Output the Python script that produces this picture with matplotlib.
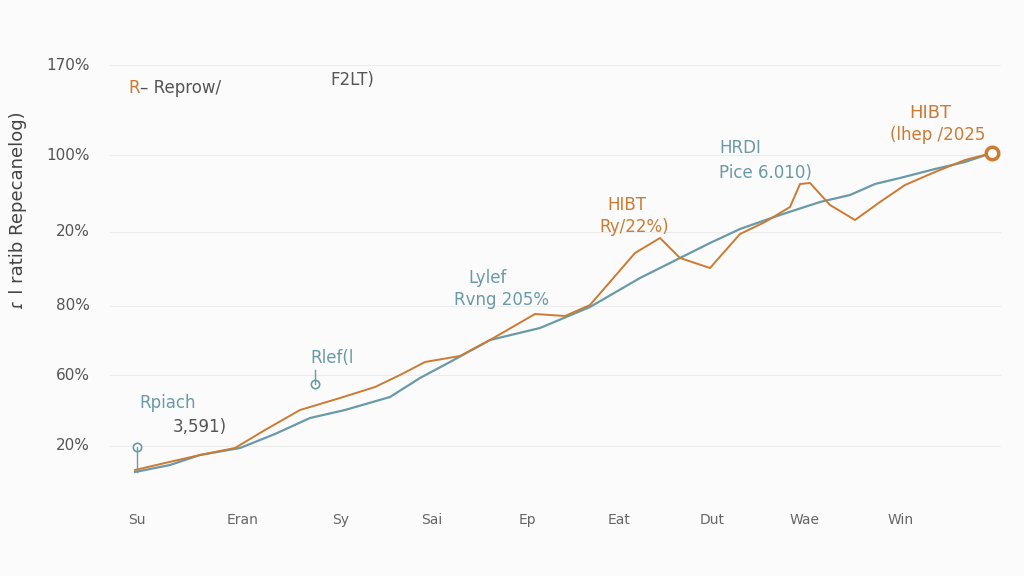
import matplotlib
matplotlib.use("Agg")
import matplotlib.pyplot as plt

# data (x in category-position units, y in relative performance units)
x_labels = ["Su", "Eran", "Sy", "Sai", "Ep", "Eat", "Dut", "Wae", "Win"]
x_label_pos = [137, 243, 341, 432, 527, 619, 712, 805, 901]
y_tick_labels = ["20%", "60%", "80%", "20%", "100%", "170%"]
y_tick_pos = [54, 125, 194, 268, 345, 435]

orange_x = [135,165,200,235,265,300,340,375,400,425,460,490,535,565,590,635,660,680,710,740,765,790,800,810,830,855,880,905,935,965,992]
orange_y = [30,37,45,52,70,90,102,113,125,138,144,160,186,184,195,247,262,242,232,266,278,293,316,317,295,280,298,315,328,340,347]
teal_x = [135,170,200,240,275,310,345,390,420,450,490,540,590,640,680,710,740,780,820,850,875,900,935,965,992]
teal_y = [28,35,45,52,66,82,90,103,122,138,160,172,193,222,242,257,271,285,298,305,316,322,331,338,347]

fig = plt.figure(figsize=(10.24, 5.76), dpi=100)
fig.patch.set_facecolor("#fbfbfb")
ax = fig.add_axes([0, 0, 1, 1])
ax.set_facecolor("#fbfbfb")
ax.set_xlim(0, 1024)
ax.set_ylim(-76, 500)
ax.axis("off")

for yp, lab in zip(y_tick_pos, y_tick_labels):
    ax.plot([110, 1000], [yp, yp], color="#ececec", lw=0.8, zorder=0)
    ax.text(90, yp, lab, ha="right", va="center", fontsize=11, color="#555555")
for xp, lab in zip(x_label_pos, x_labels):
    ax.text(xp, -20, lab, ha="center", va="center", fontsize=10, color="#666666")

teal = "#6a9aa8"
orange = "#cd7a32"
ax.plot(teal_x, teal_y, color=teal, lw=1.6)
ax.plot(orange_x, orange_y, color=orange, lw=1.4)
ax.plot([orange_x[-1]], [orange_y[-1]], "o", ms=9, mfc="white", mec=orange, mew=2.5)
ax.plot([137], [53], "o", ms=6, mfc="white", mec=teal, mew=1.2)
ax.plot([137, 137], [28, 53], color=teal, lw=1)
ax.plot([315], [116], "o", ms=6, mfc="white", mec=teal, mew=1.2)
ax.plot([315, 315], [116, 130], color=teal, lw=1)

ax.text(18, 290, "ɾ l ratib Repecanelog)", rotation=90, ha="center", va="center", fontsize=13, color="#444444")
ax.text(128, 412, "R", color=orange, fontsize=12, va="center")
ax.text(140, 412, "– Reprow/", color="#555555", fontsize=12, va="center")
ax.text(330, 420, "F2LT)", color="#555555", fontsize=12, va="center")

ax.text(168, 92, "Rpiach", color=teal, fontsize=12, ha="center")
ax.text(200, 68, "3,591)", color="#555555", fontsize=12, ha="center")
ax.text(332, 137, "Rlef(l", color=teal, fontsize=12, ha="center")
ax.text(488, 217, "Lylef", color=teal, fontsize=12, ha="center")
ax.text(502, 195, "Rvng 205%", color=teal, fontsize=12, ha="center")
ax.text(627, 290, "HIBT", color=orange, fontsize=12, ha="center")
ax.text(634, 268, "Ry/22%)", color=orange, fontsize=12, ha="center")
ax.text(740, 347, "HRDI", color=teal, fontsize=12, ha="center")
ax.text(765, 322, "Pice 6.010)", color=teal, fontsize=12, ha="center")
ax.text(930, 382, "HIBT", color=orange, fontsize=13, ha="center")
ax.text(938, 360, "(lhep /2025", color=orange, fontsize=12, ha="center")

fig.savefig("out.png", dpi=100, facecolor=fig.get_facecolor())
